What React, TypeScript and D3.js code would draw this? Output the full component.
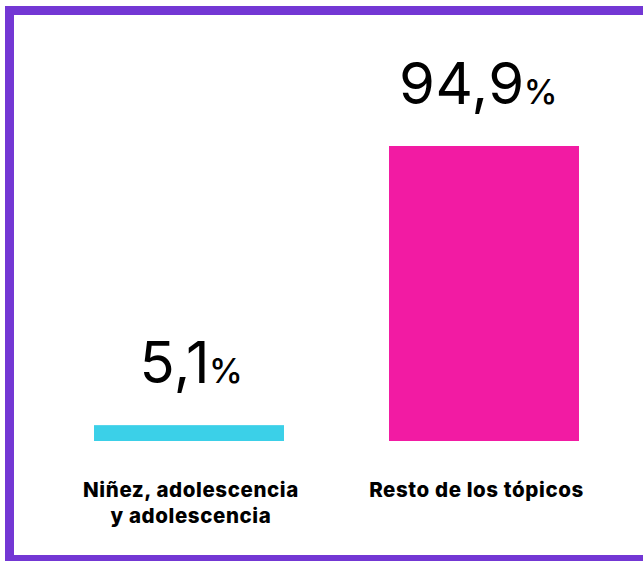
import React from "react";
import * as d3 from "d3";

const categories = ["Niñez, adolescencia\ny adolescencia", "Resto de los tópicos"];
const values = [5.1, 94.9];
const valueLabels = ["5,1", "94,9"];
const colors = ["#3BD0E8", "#F21BA3"];

const W = 643;
const H = 561;

export default function App() {
  const x = d3.scaleBand<string>().domain(categories).range([41.5, 631.5]).paddingInner(0.356).paddingOuter(0.178);
  const y = d3.scaleLinear().domain([0, 94.9]).range([441, 146]);
  const valueDx = [2.5, -5.5];
  const catDx = [2, -7.5];
  return (
    <svg width={W} height={H} style={{ position: "absolute", left: 0, top: 0, background: "#fff" }}>
      <rect x={9.5} y={10.5} width={700} height={549} fill="none" stroke="#7337D4" strokeWidth={9} />
      {categories.map((c, i) => {
        const bx = x(c)!;
        const bw = x.bandwidth();
        const cx = bx + bw / 2;
        const top = y(values[i]);
        const lines = c.split("\n");
        return (
          <g key={c}>
            <rect x={bx} y={top} width={bw} height={y(0) - top} fill={colors[i]} />
            <text x={cx + valueDx[i]} y={top - 42} textAnchor="middle" fontFamily="Inter, 'Noto Sans', sans-serif" fontSize={58} fill="#000" letterSpacing={0.5}>
              {valueLabels[i]}
              <tspan fontSize={34} fontWeight={500} dx={-1}>%</tspan>
            </text>
            <text y={497} textAnchor="middle" fontFamily="Inter, 'Noto Sans', sans-serif" fontWeight={800} fontSize={20.5} letterSpacing={0.6} fill="#000">
              {lines.map((l, j) => (
                <tspan key={j} x={cx + catDx[i]} dy={j === 0 ? 0 : 26}>{l}</tspan>
              ))}
            </text>
          </g>
        );
      })}
    </svg>
  );
}
